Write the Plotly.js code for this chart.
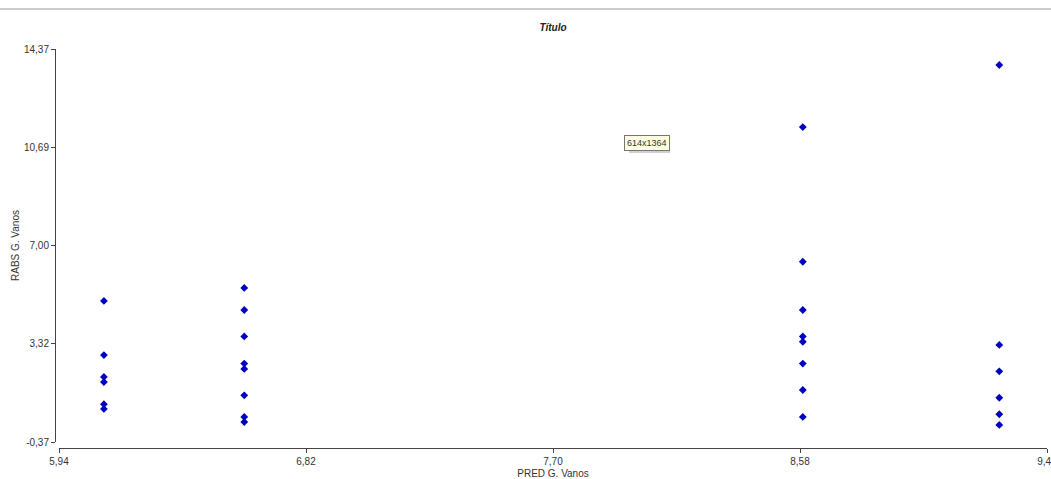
<!DOCTYPE html>
<html>
<head>
<meta charset="utf-8">
<script src="https://cdn.plot.ly/plotly-3.0.1.min.js"></script>
<style>
html,body{margin:0;padding:0;background:#fff;}
#chart{width:1051px;height:479px;}
</style>
</head>
<body>
<div id="chart"></div>
<script>
// Data
const predValues = [
  6.10, 6.10, 6.10, 6.10, 6.10, 6.10,
  6.60, 6.60, 6.60, 6.60, 6.60, 6.60, 6.60, 6.60,
  8.59, 8.59, 8.59, 8.59, 8.59, 8.59, 8.59, 8.59,
  9.29, 9.29, 9.29, 9.29, 9.29, 9.29
];
const rabsValues = [
  4.92, 2.89, 2.07, 1.88, 1.05, 0.87,
  5.41, 4.58, 3.59, 2.57, 2.37, 1.38, 0.57, 0.38,
  11.44, 6.39, 4.58, 3.59, 3.39, 2.57, 1.58, 0.57,
  13.77, 3.27, 2.28, 1.29, 0.67, 0.27
];
const xTickVals = [5.94, 6.82, 7.70, 8.58, 9.46];
const xTickText = ["5,94", "6,82", "7,70", "8,58", "9,46"];
const yTickVals = [-0.37, 3.32, 7.00, 10.69, 14.37];
const yTickText = ["-0,37", "3,32", "7,00", "10,69", "14,37"];
const chartTitle = "Título";
const xTitle = "PRED G. Vanos";
const yTitle = "RABS G. Vanos";
const tooltipText = "614x1364";

const fontFam = "Liberation Sans, Arial, sans-serif";

const trace = {
  type: 'scatter',
  mode: 'markers',
  x: predValues,
  y: rabsValues,
  marker: {symbol: 'diamond', size: 6, color: '#0000c0', line: {width: 0}},
  hoverinfo: 'skip',
  showlegend: false,
  cliponaxis: false
};

const layout = {
  width: 1051,
  height: 479,
  margin: {l: 55, r: 4, t: 49, b: 31, pad: 0},
  paper_bgcolor: '#ffffff',
  plot_bgcolor: '#ffffff',
  font: {family: fontFam, size: 10, color: '#333333'},
  title: {
    text: '<b><i>' + chartTitle + '</i></b>',
    font: {family: fontFam, size: 10, color: '#222222'},
    x: 553 / 1051, xanchor: 'center', xref: 'container',
    y: 1 - 27 / 479, yanchor: 'middle', yref: 'container'
  },
  xaxis: {
    domain: [4 / 992, 1],
    range: [5.94, 9.46],
    anchor: 'free', position: 0,
    tickmode: 'array', tickvals: xTickVals, ticktext: xTickText,
    ticks: 'outside', ticklen: 4, tickcolor: '#444', tickwidth: 1,
    ticklabeloverflow: 'allow',
    showline: true, linecolor: '#444', linewidth: 1,
    showgrid: false, zeroline: false,
    tickfont: {family: fontFam, size: 10, color: '#333'},
    title: {text: xTitle, font: {family: fontFam, size: 10, color: '#333'}, standoff: 4}
  },
  yaxis: {
    domain: [6 / 399, 1],
    range: [-0.37, 14.37],
    anchor: 'free', position: 0,
    tickmode: 'array', tickvals: yTickVals, ticktext: yTickText,
    ticks: 'outside', ticklen: 4, tickcolor: '#444', tickwidth: 1,
    showline: true, linecolor: '#444', linewidth: 1,
    showgrid: false, zeroline: false,
    tickfont: {family: fontFam, size: 10, color: '#333'},
    title: {text: yTitle, font: {family: fontFam, size: 10, color: '#333'}, standoff: 1}
  },
  shapes: [
    {type: 'line', xref: 'paper', yref: 'paper', x0: -0.1, x1: 1.1,
     y0: 1 + 40 / 399, y1: 1 + 40 / 399, line: {color: '#cccccc', width: 2}},
    {type: 'rect', xref: 'paper', yref: 'paper',
     x0: (629 - 55) / 992, x1: (670 - 55) / 992,
     y0: (448 - 153) / 399, y1: (448 - 139) / 399,
     fillcolor: '#d0d0d0', line: {width: 0}, layer: 'above'}
  ],
  annotations: [
    {text: tooltipText, xref: 'paper', yref: 'paper',
     x: (647 - 55) / 992, y: (448 - 143) / 399, xanchor: 'center', yanchor: 'middle',
     showarrow: false, bgcolor: '#ffffe1', bordercolor: '#767676', borderwidth: 1, borderpad: 2,
     font: {family: fontFam, size: 9, color: '#333'}}
  ]
};

Plotly.newPlot('chart', [trace], layout, {displayModeBar: false, staticPlot: true});
</script>
</body>
</html>
